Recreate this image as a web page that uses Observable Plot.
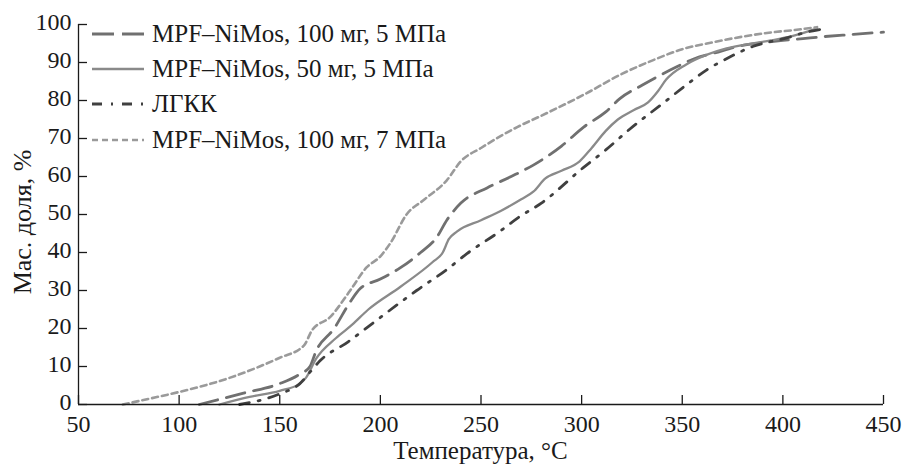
<!DOCTYPE html>
<html>
<head>
<meta charset="utf-8">
<script src="https://cdn.jsdelivr.net/npm/d3@7"></script>
<script src="https://cdn.jsdelivr.net/npm/@observablehq/plot@0.6"></script>
<style>
  html, body { margin: 0; padding: 0; background: #fff; }
  #chart { width: 904px; height: 464px; }
</style>
</head>
<body>
<div id="chart"></div>
<script>
// Tick values
const xTicks = [50, 100, 150, 200, 250, 300, 350, 400, 450];
const yTicks = [0, 10, 20, 30, 40, 50, 60, 70, 80, 90, 100];

// Axis titles
const xTitle = "Температура, °C";
const yTitle = "Мас. доля, %";

// Series names
const seriesNames = [
  "MPF\u2013NiMos, 100 мг, 5 МПа",
  "MPF\u2013NiMos, 50 мг, 5 МПа",
  "ЛГКК",
  "MPF\u2013NiMos, 100 мг, 7 МПа"
];

// Series: [temperature °C, mass fraction %]
const s100mg5MPa = [[110,0],[132,3],[150,5.5],[160,8],[165,10],[168,14],[177,20],[185,27],[190,30.5],[200,33],[210,36],[220,40],[228,44],[233,48.5],[240,53],[253,57],[265,60],[276,63],[290,68],[301,73],[312,77],[319,80.5],[330,84],[344,88],[356,91],[366,92.5],[380,94.5],[390,95.2],[400,95.8],[410,96.3],[420,96.8],[435,97.4],[450,98]];
const s50mg5MPa = [[120,0],[135,2],[150,3.6],[160,5.5],[163,7],[168,12],[178,17.5],[186,21],[194,25],[210,31],[226,37.5],[231,40],[234,43.5],[238,45.5],[250,48.5],[260,51],[270,54],[276,56],[282,59.5],[290,61.5],[299,64],[305,67.5],[312,72],[318,75],[326,77.5],[333,79.5],[338,82.5],[342,85.5],[352,89.5],[362,92],[372,93.7],[385,95],[394,95.8],[405,97],[417,99]];
const sLGKK = [[130,0],[150,2.8],[160,5.5],[165,8.5],[170,11.5],[184,16.5],[194,20.5],[218,30],[233,35.5],[243,39.7],[260,45.8],[268,49],[280,53],[301,62.4],[312,67],[324,72.5],[341,79.5],[353,84.5],[362,88],[372,91],[385,94.2],[402,96.5],[412,98],[422,99]];
const s100mg7MPa = [[72,0],[85,1.5],[100,3.3],[125,7],[140,10],[150,12.3],[162,15.5],[166,19.5],[175,23],[185,30],[193,36],[200,39],[205,42.5],[213,50],[222,54],[233,59],[240,64],[250,67.5],[268,73],[280,76],[301,81.5],[320,87],[335,90.5],[350,93.5],[365,95.3],[380,96.8],[394,97.9],[405,98.5],[417,99.3]];

const seriesData = [s100mg5MPa, s50mg5MPa, sLGKK, s100mg7MPa];
const styles = [
  {stroke: "#707070", strokeWidth: 2.8, strokeDasharray: "19,9"},
  {stroke: "#8a8a8a", strokeWidth: 2.3, strokeDasharray: null},
  {stroke: "#404040", strokeWidth: 2.8, strokeDasharray: "10,9,2,9"},
  {stroke: "#9a9a9a", strokeWidth: 2.6, strokeDasharray: "6,4"}
];

const rows = [];
seriesData.forEach((arr, i) => arr.forEach(([t, v]) => rows.push({series: seriesNames[i], t, v})));

const W = 904, H = 464, mL = 78, mR = 21, mT = 24, mB = 60;
const plotW = W - mL - mR, plotH = H - mT - mB;
const tickLen = 9;
const FONT = "'Liberation Serif', 'Times New Roman', serif";

const lineMarks = seriesNames.map((name, i) =>
  Plot.line(rows.filter(r => r.series === name), {
    x: "t", y: "v", curve: "monotone-x",
    stroke: styles[i].stroke, strokeWidth: styles[i].strokeWidth,
    strokeDasharray: styles[i].strokeDasharray
  })
);

const chart = Plot.plot({
  width: W, height: H,
  marginLeft: mL, marginRight: mR, marginTop: mT, marginBottom: mB,
  style: {fontFamily: FONT, fontSize: "24px", color: "#1a1a1a", background: "#fff", overflow: "visible"},
  x: {domain: [50, 450]},
  y: {domain: [0, 100]},
  marks: [
    Plot.axisX({ticks: xTicks, tickSize: 0, tickPadding: 10, tickFormat: d => String(d), label: null, fontSize: 24}),
    Plot.axisY({ticks: yTicks, tickSize: 0, tickPadding: 7, dy: -2, tickFormat: d => String(d), label: null, fontSize: 24}),
    Plot.tickX(xTicks, {x: d => d, insetTop: plotH - tickLen, stroke: "#1a1a1a", strokeWidth: 1.3}),
    Plot.tickY(yTicks, {y: d => d, insetRight: plotW - tickLen, stroke: "#1a1a1a", strokeWidth: 1.3}),
    ...lineMarks,
    Plot.ruleX([50], {stroke: "#1a1a1a", strokeWidth: 1.3}),
    Plot.ruleY([0], {stroke: "#1a1a1a", strokeWidth: 1.3})
  ]
});

document.getElementById("chart").appendChild(chart);

const svg = d3.select(chart);

// Axis titles
svg.append("text")
  .attr("x", mL + plotW / 2).attr("y", 459)
  .attr("text-anchor", "middle")
  .attr("font-family", FONT).attr("font-size", 25)
  .attr("fill", "#1a1a1a")
  .text(xTitle);
svg.append("text")
  .attr("transform", `translate(31, ${mT + plotH / 2 + 8}) rotate(-90)`)
  .attr("text-anchor", "middle")
  .attr("font-family", FONT).attr("font-size", 26)
  .attr("fill", "#1a1a1a")
  .text(yTitle);

// Legend inside the plot, top-left
const leg = svg.append("g").attr("class", "legend");
const legY = [34, 69, 104, 140];
seriesNames.forEach((name, i) => {
  leg.append("line")
    .attr("x1", 92).attr("x2", 144)
    .attr("y1", legY[i]).attr("y2", legY[i])
    .attr("stroke", styles[i].stroke)
    .attr("stroke-width", styles[i].strokeWidth)
    .attr("stroke-dasharray", i === 0 ? "22,8" : styles[i].strokeDasharray);
  leg.append("text")
    .attr("x", 152).attr("y", legY[i] + 8)
    .attr("text-anchor", "start")
    .attr("fill", "#1a1a1a")
    .attr("font-family", FONT)
    .attr("font-size", 25)
    .text(name);
});
</script>
</body>
</html>
